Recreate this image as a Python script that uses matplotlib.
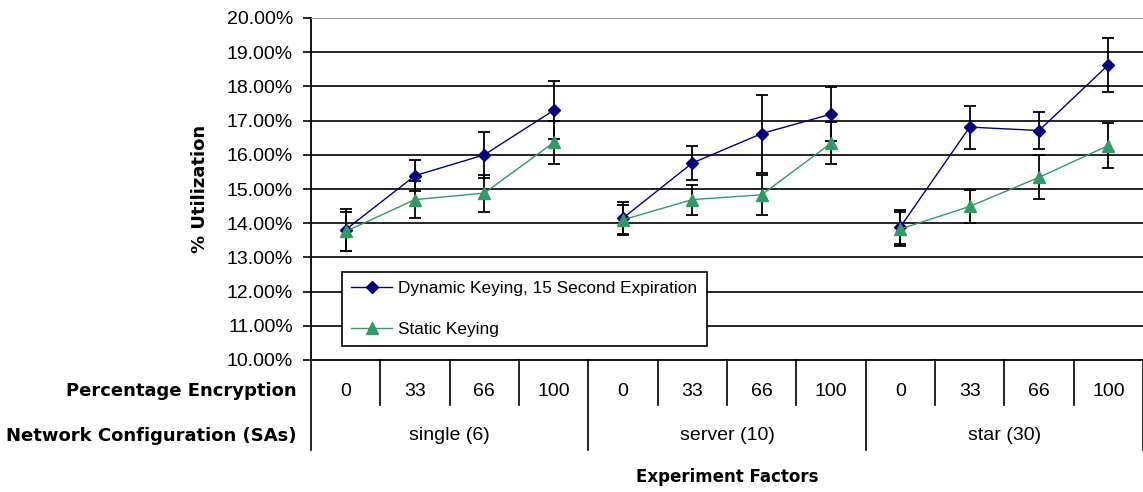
import matplotlib
matplotlib.use("Agg")
import matplotlib.pyplot as plt
from matplotlib.lines import Line2D

plt.rcParams['font.family'] = ['Liberation Sans', 'DejaVu Sans']

# Utilization (%) per experiment, 4 encryption levels x 3 network configs
encryption = ['0', '33', '66', '100']
networks = ['single (6)', 'server (10)', 'star (30)']

dynamic = [13.81, 15.39, 16.00, 17.30, 14.15, 15.76, 16.62, 17.19, 13.89, 16.81, 16.71, 18.63]
dynamic_err = [0.61, 0.46, 0.67, 0.85, 0.47, 0.51, 1.14, 0.79, 0.50, 0.63, 0.55, 0.79]
static = [13.76, 14.69, 14.88, 16.36, 14.10, 14.69, 14.83, 16.34, 13.83, 14.49, 15.34, 16.27]
static_err = [0.58, 0.54, 0.54, 0.64, 0.44, 0.44, 0.58, 0.62, 0.50, 0.48, 0.64, 0.65]

navy = '#000080'
green = '#339966'
bold_font = 'DejaVu Sans'

fig = plt.figure(figsize=(11.43, 4.92), dpi=100)
W, H = 1143, 492
left, right, top, bottom = 311, 1143, 18, 360
ax = fig.add_axes([left / W, (H - bottom) / H, (right - left) / W, (bottom - top) / H])

x = list(range(len(dynamic)))

# gridlines
for v in range(11, 20):
    ax.axhline(v, color='black', lw=1.2, zorder=1)

# error bars first, then one line per network group (no link between groups)
ax.errorbar(x, dynamic, yerr=dynamic_err, fmt='none', ecolor='black',
            elinewidth=1.3, capsize=4.5, capthick=1.3, zorder=2)
ax.errorbar(x, static, yerr=static_err, fmt='none', ecolor='black',
            elinewidth=1.3, capsize=4.5, capthick=1.3, zorder=2)
for g in range(len(networks)):
    sl = slice(g * 4, g * 4 + 4)
    ax.plot(x[sl], dynamic[sl], color=navy, lw=1.0, marker='D', ms=6, zorder=3)
    ax.plot(x[sl], static[sl], color=green, lw=1.0, marker='^', ms=8, zorder=3)

ax.set_xlim(-0.5, len(x) - 0.5)
ax.set_ylim(10, 20)
ax.set_yticks(range(10, 21))
ax.set_yticklabels(['%.2f%%' % v for v in range(10, 21)])
ax.tick_params(axis='y', length=6, width=1.2, pad=7, labelsize=14, direction='out')
ax.set_xticks([])

ax.spines['right'].set_visible(False)
ax.spines['top'].set_color('#999999')
ax.spines['left'].set_linewidth(1.3)
ax.spines['bottom'].set_linewidth(1.3)

# category table under the axis
tr = ax.get_xaxis_transform()
row1 = (bottom - 405) / (bottom - top)
row2 = (bottom - 450) / (bottom - top)
for i in range(len(x) + 1):
    xe = i - 0.5
    y_end = row2 if i % 4 == 0 else row1
    ax.plot([xe, xe], [0, y_end], transform=tr, color='black', lw=1.2, clip_on=False)

for i in x:
    ax.text(i, (bottom - 391) / (bottom - top), encryption[i % 4], transform=tr,
            ha='center', va='center', fontsize=14)
for g, name in enumerate(networks):
    ax.text(g * 4 + 1.5, (bottom - 436) / (bottom - top), name, transform=tr,
            ha='center', va='center', fontsize=14)

fig.text(297 / W, (H - 391) / H, 'Percentage Encryption', ha='right', va='center',
         fontsize=13, fontweight='bold', family=bold_font)
fig.text(297 / W, (H - 436) / H, 'Network Configuration (SAs)', ha='right', va='center',
         fontsize=13, fontweight='bold', family=bold_font)
fig.text(727 / W, (H - 477) / H, 'Experiment Factors', ha='center', va='center',
         fontsize=12, fontweight='bold', family=bold_font)
fig.text(200 / W, (H - 189) / H, '% Utilization', ha='center', va='center',
         rotation=90, fontsize=13, fontweight='bold', family=bold_font)

handles = [Line2D([], [], color=navy, lw=1.0, marker='D', ms=6),
           Line2D([], [], color=green, lw=1.0, marker='^', ms=8)]
leg = ax.legend(handles, ['Dynamic Keying, 15 Second Expiration', 'Static Keying'],
                loc='lower left', bbox_to_anchor=((342 - left) / (right - left), (bottom - 346) / (bottom - top)),
                fontsize=12.4, frameon=True, fancybox=False, edgecolor='black',
                framealpha=1, handlelength=2.36, handletextpad=0.35, labelspacing=1.45,
                borderpad=0.55, borderaxespad=0)
leg.get_frame().set_linewidth(1.2)
leg.set_zorder(5)

fig.savefig('out.png', dpi=100)
